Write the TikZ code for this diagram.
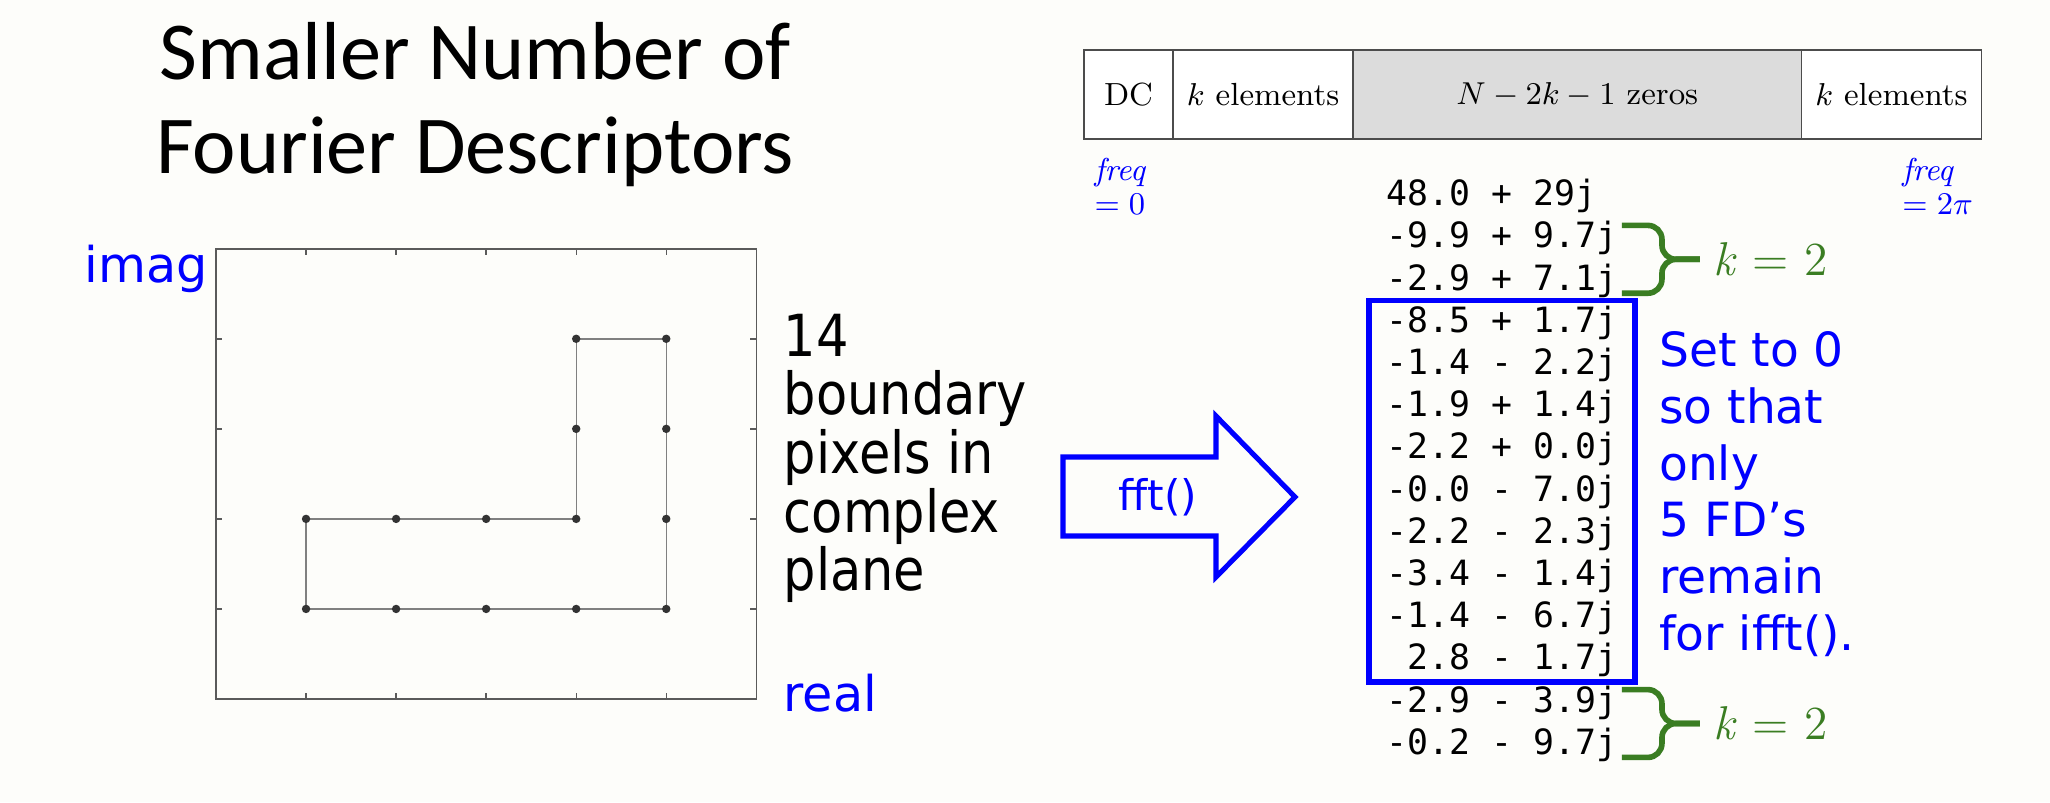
\documentclass[tikz,border=0pt]{standalone}
\usepackage{fontspec}
\usetikzlibrary{positioning,calc,fit}
\newfontfamily\titlefont{Carlito}
\newfontfamily\slidefont{DejaVu Sans}
\newfontfamily\narrowfont[FakeStretch=0.88]{DejaVu Sans}
\newfontfamily\codefont{DejaVu Sans Mono}
\definecolor{paper}{HTML}{FDFDFA}
\definecolor{axisgray}{HTML}{5A5A5A}
\definecolor{kgreen}{HTML}{3A7D22}
\definecolor{cellgray}{HTML}{DCDCDC}

\begin{document}
\begin{tikzpicture}[x=0.01cm,y=-0.01cm,
    cell/.style={draw=black!70,line width=0.45pt,fill=white,inner sep=0pt,
                 outer sep=0pt,minimum height=0.89cm,
                 font=\fontsize{9.1}{11}\selectfont},
    freqlbl/.style={text=blue,align=left,inner sep=0pt,
                 font=\fontsize{9}{9.7}\selectfont},
    val/.style={anchor=west,inner sep=0pt,minimum height=0.422cm,
                 font=\codefont\fontsize{9.9}{12}\selectfont},
    kbrace/.style={draw=kgreen,line width=1.6pt,rounded corners=4pt},
    klabel/.style={text=kgreen,inner sep=0pt,font=\fontsize{13.5}{16}\selectfont},
    note/.style={text=blue,inner sep=0pt,align=left,
                 font=\slidefont\fontsize{14}{17}\selectfont}]
  \fill[paper] (0,0) rectangle (2050,802);

  % title and the boundary in the complex plane
  \node[font=\titlefont\fontsize{23.4}{26.5}\selectfont,align=center,
        anchor=north,inner sep=0pt] (title) at (475,22)
        {Smaller Number of\\Fourier Descriptors};
  \begin{scope}[shift={(216,699)},x=0.9cm,y=0.9cm]
    \draw[axisgray,line width=0.45pt] (0,0) rectangle (6,5);
    \foreach \t in {1,...,5}
      \draw[axisgray,line width=0.4pt] (\t,0) -- ++(0,0.07) (\t,5) -- ++(0,-0.07);
    \foreach \t in {1,...,4}
      \draw[axisgray,line width=0.4pt] (0,\t) -- ++(0.07,0) (6,\t) -- ++(-0.07,0);
    \draw[black!50,line width=0.4pt]
      (1,1) -- (5,1) -- (5,4) -- (4,4) -- (4,2) -- (1,2) -- cycle;
    \foreach \x/\y in {1/1,2/1,3/1,4/1,5/1,1/2,2/2,3/2,4/2,5/2,4/3,5/3,4/4,5/4}
      \fill[black!80] (\x,\y) circle (1.2pt);
  \end{scope}
  \node[note,anchor=base west] (imag) at (84,282) {imag};
  \node[note,anchor=base west] (real) at (783,711) {real};
  \node[inner sep=0pt,align=left,anchor=north west,
        font=\narrowfont\fontsize{16.5}{16.7}\selectfont] (pix) at (783,313)
        {14\\boundary\\pixels in\\complex\\plane};

  % fft arrow
  \draw[blue,line width=1.45pt,miter limit=10]
    (1063,457) -- (1216,457) -- (1216,416) -- (1295,497) -- (1216,577)
    -- (1216,536) -- (1063,536) -- cycle;
  \node[text=blue,font=\slidefont\fontsize{12}{14}\selectfont] (fft) at (1158,497) {fft()};

  % layout of the spectrum
  \node[cell,minimum width=0.89cm] (dc) at (1128.5,94.5) {DC};
  \node[cell,minimum width=1.8cm,right=0pt of dc] (kl) {$k$ elements};
  \node[cell,minimum width=4.48cm,right=0pt of kl,fill=cellgray] (zr) {$N-2k-1$ zeros};
  \node[cell,minimum width=1.8cm,right=0pt of zr] (kr) {$k$ elements};
  \node[freqlbl,below right=0.18cm and 0.1cm of dc.south west] (f0) {\textit{freq}\\$=0$};
  \node[freqlbl,below left=0.18cm and 0.08cm of kr.south east] (f2) {\textit{freq}\\$=2\pi$};

  % the 14 descriptors
  \foreach \v [count=\i from 0] in {48.0 + 29j,-9.9 + 9.7j,-2.9 + 7.1j,
      -8.5 + 1.7j,-1.4 - 2.2j,-1.9 + 1.4j,-2.2 + 0.0j,-0.0 - 7.0j,
      -2.2 - 2.3j,-3.4 - 1.4j,-1.4 - 6.7j,\hphantom{-}2.8 - 1.7j,
      -2.9 - 3.9j,-0.2 - 9.7j}
    \node[val] (v\i) at (1386,196+42.2*\i) {\v};
  \node[draw=blue,line width=1.45pt,inner xsep=0.17cm,inner ysep=0pt,
        fit=(v3)(v11)] (kept) {};
  \node[note,font=\slidefont\fontsize{13.4}{16.1}\selectfont,
        below right=0.33cm and 0.21cm of kept.north east] (why)
        {Set to 0\\so that\\only\\5 FD’s\\remain\\for ifft().};

  % braces for the k kept terms
  \coordinate (a1) at ($(v1.north east)+(4,9)$);
  \coordinate (a2) at ($(v2.south east)+(4,-9)$);
  \coordinate (ta) at ($(a1)!0.5!(a2)+(78,0)$);
  \draw[kbrace] (a1) -- ++(40,0) |- (ta);
  \draw[kbrace] (a2) -- ++(40,0) |- (ta);
  \node[klabel,right=0.13cm of ta] (ka) {\textit{k} = 2};
  \coordinate (b1) at ($(v12.north east)+(4,9)$);
  \coordinate (b2) at ($(v13.south east)+(4,-9)$);
  \coordinate (tb) at ($(b1)!0.5!(b2)+(78,0)$);
  \draw[kbrace] (b1) -- ++(40,0) |- (tb);
  \draw[kbrace] (b2) -- ++(40,0) |- (tb);
  \node[klabel,right=0.13cm of tb] (kb) {\textit{k} = 2};
\end{tikzpicture}
\end{document}
